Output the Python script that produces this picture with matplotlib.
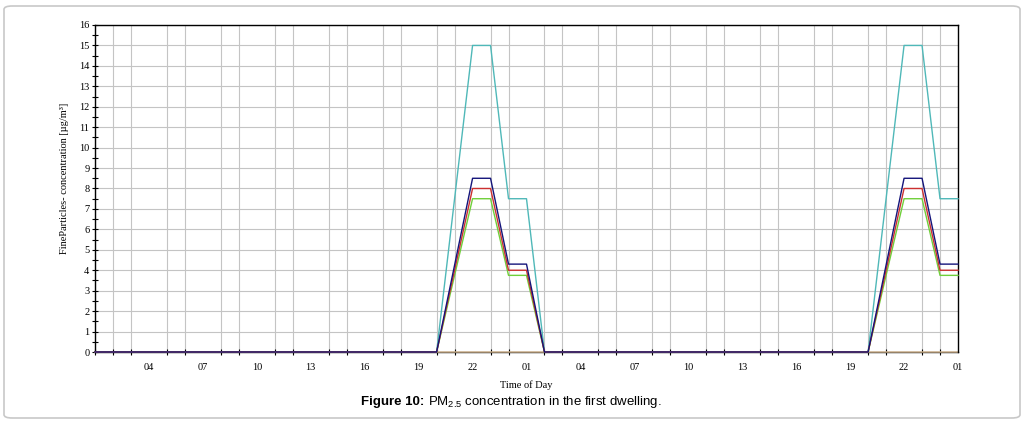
import numpy as np
import matplotlib
matplotlib.use("Agg")
import matplotlib.pyplot as plt
import matplotlib.patches as mpatches

# hours since 01:00 on the first day
hours = np.arange(0, 49)
tick_hours = np.arange(3, 49, 3)
tick_labels = ["04", "07", "10", "13", "16", "19", "22", "01",
               "04", "07", "10", "13", "16", "19", "22", "01"]

def day_profile(rise, peak, tail):
    # two evening episodes: 20:00 start, 22-23 peak, 00-01 tail
    v = np.zeros(49)
    v[[20, 44]] = rise
    v[[21, 22, 45, 46]] = peak
    v[[23, 24, 47, 48]] = tail
    return v

blue = day_profile(4.25, 8.5, 4.3)
red = day_profile(4.0, 8.0, 4.0)
green = day_profile(3.75, 7.5, 3.75)
cyan = day_profile(7.5, 15.0, 7.5)
tan = np.zeros(49)

series = [
    (tan, "#d9bc94", 2),
    (cyan, "#4fb8b8", 3),
    (green, "#6fcf3a", 4),
    (red, "#cc3030", 5),
    (blue, "#14147a", 6),
]

fig = plt.figure(figsize=(10.24, 4.23), dpi=100)
ax = fig.add_axes([95 / 1024, 1 - 352 / 423, 863 / 1024, 327 / 423])

for vals, col, z in series:
    ax.plot(hours, vals, color=col, lw=1.0, zorder=z, clip_on=False,
            snap=False)

ax.set_xlim(0, 48)
ax.set_ylim(0, 16)
ax.set_xticks(tick_hours)
ax.set_xticklabels(tick_labels)
ax.set_xticks(hours, minor=True)
ax.set_yticks(np.arange(0, 17, 1))
ax.set_yticks(np.arange(0, 16.01, 0.5), minor=True)
ax.grid(True, which="major", axis="y", color="#c4c4c4", lw=0.8)
ax.grid(True, which="minor", axis="x", color="#c4c4c4", lw=0.8)
ax.set_axisbelow(True)

serif = "Liberation Serif"
for lab in ax.get_xticklabels() + ax.get_yticklabels():
    lab.set_fontfamily(serif)
    lab.set_fontsize(7.5)
ax.tick_params(which="both", direction="inout", length=4, width=0.8,
               color="black", pad=2)
ax.tick_params(axis="x", which="major", length=0, pad=8)
for s in ax.spines.values():
    s.set_color("black")
    s.set_linewidth(1.0)
ax.spines["bottom"].set_zorder(1)

ax.set_xlabel("Time of Day", family=serif, fontsize=7.5, labelpad=6)
ax.set_ylabel("FineParticles- concentration [\u00b5g/m\u00b3]", family=serif,
              fontsize=7.5, labelpad=8)
ax.yaxis.set_label_coords(-0.03, 0.53)

# outer rounded frame
frame = mpatches.FancyBboxPatch((4 / 1024, 5 / 423), 1016 / 1024, 412 / 423,
                                boxstyle="round,pad=0,rounding_size=0.008",
                                transform=fig.transFigure, facecolor="none",
                                edgecolor="#c8c8c8", lw=1.2)
fig.patches.append(frame)

# caption: bold part plus regular part with subscript
plt.rcParams["mathtext.fontset"] = "custom"
plt.rcParams["mathtext.rm"] = "Liberation Sans"
cap_y = 1 - 402 / 423
t1 = fig.text(361 / 1024, cap_y, "Figure 10:", family="Liberation Sans",
              fontweight="bold", fontsize=9.5, ha="left", va="center")
fig.canvas.draw()
bb = t1.get_window_extent()
fig.text((bb.x1 + 4) / 1024, cap_y,
         r"PM$_{2.5}$ concentration in the first dwelling.",
         family="Liberation Sans", fontsize=9.5, ha="left", va="center")

fig.savefig("out.png", dpi=100)
